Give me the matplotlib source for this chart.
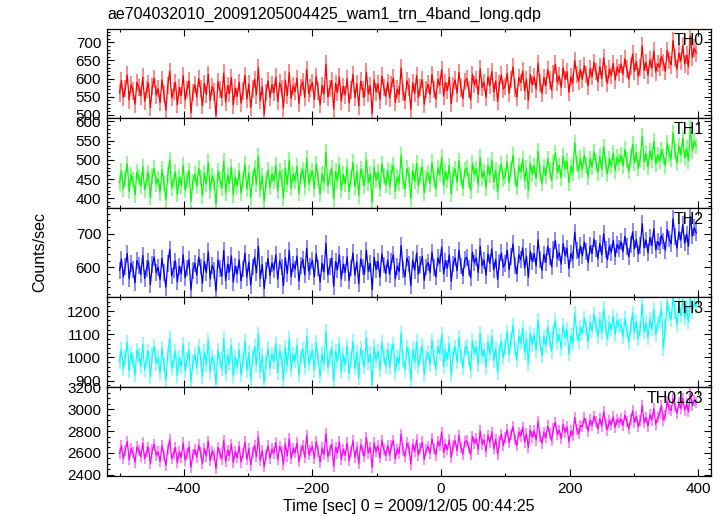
import numpy as np
import matplotlib
matplotlib.use("Agg")
import matplotlib.pyplot as plt
from matplotlib.ticker import MultipleLocator

plt.rcParams['font.family'] = ['Liberation Sans', 'DejaVu Sans']

title = "ae704032010_20091205004425_wam1_trn_4band_long.qdp"
xlabel = "Time [sec] 0 = 2009/12/05 00:44:25"
ylabel = "Counts/sec"
band_names = ["TH0", "TH1", "TH2", "TH3", "TH0123"]
band_colors = ["#ff0000", "#00ff00", "#0000ff", "#00ffff", "#ff00ff"]

t_start = -500.0
bin_size = 3.0

th0 = [
    560, 595, 548, 572, 610, 541, 583, 566, 529, 590, 575, 552, 604, 538, 569, 587, 520, 578, 601, 555,
    572, 534, 596, 558, 513, 581, 620, 547, 566, 589, 528, 575, 553, 608, 541, 570, 594, 505, 562, 583,
    549, 600, 571, 525, 587, 556, 612, 540, 578, 563, 498, 592, 569, 547, 615, 535, 581, 559, 603, 527,
    574, 551, 590, 532, 566, 609, 543, 585, 520, 571, 598, 555, 630, 539, 578, 501, 562, 594, 548, 583,
    561, 604, 537, 588, 572, 519, 596, 553, 617, 545, 580, 564, 601, 531, 576, 592, 548, 625, 559, 574,
    589, 542, 606, 566, 528, 581, 557, 640, 549, 573, 595, 516, 587, 562, 604, 538, 579, 555, 599, 533,
    568, 611, 547, 586, 524, 593, 570, 549, 618, 558, 580, 504, 597, 563, 585, 541, 607, 575, 551, 590,
    546, 583, 602, 534, 571, 556, 629, 562, 540, 594, 577, 515, 588, 560, 608, 548, 576, 597, 529, 569,
    585, 556, 612, 570, 543, 598, 581, 625, 552, 589, 567, 604, 531, 580, 596, 560, 617, 574, 545, 592,
    600, 569, 541, 612, 583, 598, 556, 627, 575, 590, 548, 606, 581, 620, 563, 594, 537, 586, 610, 571,
    579, 615, 560, 597, 632, 574, 549, 603, 589, 621, 566, 598, 540, 611, 583, 605, 571, 642, 588, 559,
    603, 581, 625, 596, 568, 614, 640, 590, 607, 575, 631, 598, 619, 562, 604, 588, 650, 612, 593, 626,
    598, 636, 611, 580, 627, 605, 645, 619, 591, 633, 600, 658, 614, 587, 626, 608, 642, 596, 631, 617,
    640, 612, 655, 627, 598, 634, 668, 620, 647, 606, 631, 690, 623, 645, 609, 652, 629, 676, 618, 641,
    632, 661, 645, 620, 678, 650, 638, 705, 657, 626, 671, 648, 692, 640, 665, 633, 718, 659, 684, 671,
]

th1 = [
    440, 472, 425, 453, 490, 418, 461, 447, 409, 468, 455, 431, 482, 422, 449, 466, 402, 458, 478, 437,
    451, 415, 475, 439, 396, 461, 500, 428, 446, 469, 410, 455, 433, 486, 421, 448, 472, 392, 443, 462,
    431, 478, 452, 407, 466, 437, 493, 420, 458, 442, 384, 470, 449, 426, 497, 414, 460, 438, 481, 409,
    455, 432, 471, 413, 447, 488, 424, 466, 401, 452, 479, 436, 510, 421, 459, 392, 444, 474, 429, 463,
    445, 486, 419, 470, 454, 401, 479, 436, 499, 427, 462, 446, 483, 413, 458, 474, 430, 505, 441, 456,
    472, 425, 489, 449, 411, 464, 440, 520, 432, 456, 478, 399, 470, 445, 487, 421, 462, 438, 482, 416,
    452, 493, 430, 469, 407, 476, 454, 433, 500, 441, 463, 390, 480, 447, 468, 424, 490, 458, 434, 473,
    430, 467, 486, 418, 455, 440, 512, 446, 424, 478, 461, 399, 472, 444, 491, 432, 460, 481, 413, 453,
    466, 437, 493, 451, 424, 479, 462, 506, 433, 470, 448, 485, 412, 461, 477, 441, 498, 455, 426, 473,
    479, 448, 420, 491, 462, 477, 435, 506, 454, 469, 427, 485, 460, 499, 442, 473, 416, 465, 489, 450,
    459, 495, 440, 477, 512, 454, 429, 483, 469, 501, 446, 478, 420, 491, 463, 485, 451, 522, 468, 439,
    481, 459, 503, 474, 446, 492, 518, 468, 485, 453, 509, 476, 497, 440, 482, 466, 545, 490, 471, 504,
    474, 512, 487, 456, 503, 481, 521, 495, 467, 509, 476, 534, 490, 463, 502, 484, 518, 472, 507, 493,
    512, 484, 527, 499, 470, 506, 540, 492, 519, 478, 503, 562, 495, 517, 481, 524, 501, 548, 490, 513,
    497, 526, 510, 485, 543, 515, 503, 570, 522, 491, 536, 513, 557, 505, 530, 498, 583, 524, 549, 536,
]

th2 = [
    590, 624, 571, 603, 641, 565, 612, 594, 553, 620, 606, 578, 635, 566, 597, 618, 548, 609, 630, 584,
    600, 562, 627, 585, 540, 611, 653, 574, 594, 619, 556, 603, 580, 637, 568, 598, 623, 532, 590, 612,
    576, 630, 601, 552, 617, 584, 646, 565, 606, 590, 528, 622, 597, 573, 650, 560, 609, 586, 634, 555,
    604, 579, 622, 559, 595, 642, 570, 615, 546, 601, 630, 583, 663, 566, 608, 536, 591, 626, 575, 612,
    592, 637, 564, 619, 601, 545, 628, 581, 650, 571, 610, 594, 633, 558, 605, 623, 577, 657, 588, 603,
    621, 571, 640, 598, 555, 612, 586, 672, 577, 603, 627, 543, 617, 592, 637, 565, 609, 584, 631, 560,
    598, 643, 576, 616, 550, 625, 601, 579, 651, 588, 611, 533, 630, 593, 618, 570, 640, 607, 581, 622,
    578, 617, 637, 565, 603, 587, 665, 594, 571, 628, 610, 545, 622, 591, 642, 579, 609, 632, 560, 601,
    614, 584, 645, 600, 571, 628, 611, 660, 580, 619, 597, 637, 558, 610, 628, 589, 651, 604, 574, 623,
    630, 598, 568, 645, 613, 628, 584, 662, 604, 621, 576, 640, 611, 655, 592, 624, 563, 616, 643, 600,
    612, 651, 592, 631, 670, 606, 580, 638, 622, 658, 598, 633, 570, 647, 617, 641, 604, 682, 622, 590,
    639, 615, 663, 632, 601, 652, 680, 626, 644, 609, 670, 635, 657, 596, 641, 624, 705, 650, 629, 664,
    634, 675, 648, 614, 664, 641, 684, 657, 626, 671, 637, 700, 652, 622, 663, 645, 681, 632, 668, 655,
    676, 646, 692, 662, 631, 669, 706, 655, 683, 640, 666, 730, 658, 681, 643, 689, 665, 715, 652, 677,
    664, 695, 678, 651, 713, 684, 670, 745, 691, 657, 706, 681, 728, 672, 699, 663, 752, 693, 718, 703,
]

th3 = [
    982, 1035, 951, 1002, 1064, 943, 1018, 990, 925, 1030, 1008, 962, 1055, 946, 994, 1026, 918, 1012, 1046, 973,
    998, 933, 1040, 970, 904, 1012, 1081, 952, 985, 1027, 922, 1000, 961, 1056, 942, 991, 1033, 893, 979, 1015,
    955, 1048, 997, 918, 1024, 968, 1074, 936, 1004, 977, 886, 1030, 990, 950, 1080, 929, 1010, 972, 1052, 921,
    1001, 960, 1034, 925, 988, 1068, 943, 1020, 905, 998, 1046, 966, 1100, 937, 1008, 892, 980, 1039, 953, 1015,
    983, 1059, 934, 1027, 997, 903, 1043, 964, 1080, 946, 1013, 986, 1052, 925, 1003, 1035, 957, 1090, 975, 1000,
    1030, 945, 1063, 993, 920, 1017, 972, 1112, 956, 1001, 1042, 898, 1027, 983, 1057, 937, 1011, 968, 1049, 930,
    992, 1068, 954, 1022, 912, 1040, 998, 960, 1085, 977, 1016, 884, 1047, 985, 1028, 946, 1066, 1005, 962, 1035,
    958, 1025, 1058, 936, 1001, 974, 1105, 987, 948, 1044, 1013, 902, 1034, 980, 1067, 960, 1010, 1050, 928, 996,
    1021, 970, 1074, 1000, 950, 1047, 1017, 1098, 962, 1030, 992, 1060, 926, 1015, 1045, 980, 1085, 1005, 955, 1037,
    1048, 995, 944, 1072, 1019, 1044, 970, 1103, 1005, 1034, 958, 1066, 1016, 1090, 985, 1038, 936, 1026, 1070, 998,
    1047, 1110, 1012, 1078, 1140, 1036, 992, 1090, 1063, 1125, 1021, 1080, 975, 1104, 1055, 1096, 1030, 1160, 1060, 1008,
    1090, 1050, 1130, 1078, 1026, 1110, 1158, 1066, 1097, 1038, 1140, 1083, 1121, 1015, 1093, 1062, 1190, 1105, 1070, 1128,
    1103, 1170, 1127, 1068, 1152, 1114, 1185, 1142, 1090, 1165, 1106, 1210, 1130, 1080, 1150, 1118, 1178, 1098, 1160, 1136,
    1140, 1090, 1168, 1118, 1066, 1130, 1192, 1108, 1156, 1080, 1124, 1230, 1110, 1150, 1086, 1165, 1123, 1206, 1100, 1145,
    1160, 1210, 1040, 1135, 1240, 1190, 1165, 1258, 1198, 1142, 1226, 1180, 1250, 1170, 1215, 1155, 1255, 1200, 1238, 1220,
]

th0123 = [
    2595, 2668, 2552, 2622, 2705, 2540, 2640, 2601, 2515, 2655, 2625, 2566, 2690, 2548, 2610, 2650, 2505, 2628, 2675, 2580,
    2610, 2522, 2670, 2575, 2488, 2630, 2720, 2548, 2592, 2648, 2510, 2612, 2560, 2690, 2535, 2598, 2655, 2470, 2585, 2632,
    2560, 2672, 2601, 2505, 2640, 2570, 2708, 2530, 2615, 2582, 2460, 2650, 2596, 2545, 2715, 2520, 2626, 2575, 2680, 2512,
    2612, 2556, 2662, 2518, 2594, 2700, 2540, 2640, 2490, 2605, 2668, 2566, 2745, 2530, 2620, 2475, 2588, 2664, 2552, 2636,
    2600, 2695, 2538, 2660, 2615, 2495, 2682, 2572, 2730, 2548, 2640, 2602, 2690, 2520, 2618, 2665, 2560, 2760, 2590, 2620,
    2660, 2550, 2705, 2612, 2518, 2645, 2585, 2775, 2565, 2625, 2680, 2480, 2652, 2600, 2700, 2540, 2635, 2578, 2690, 2530,
    2615, 2710, 2560, 2650, 2505, 2675, 2620, 2570, 2740, 2600, 2648, 2470, 2690, 2610, 2665, 2555, 2715, 2632, 2575, 2668,
    2580, 2668, 2712, 2548, 2635, 2600, 2770, 2622, 2570, 2690, 2648, 2500, 2680, 2612, 2718, 2582, 2640, 2700, 2540, 2630,
    2660, 2598, 2730, 2640, 2582, 2708, 2665, 2790, 2602, 2680, 2630, 2720, 2560, 2668, 2712, 2620, 2760, 2650, 2590, 2700,
    2712, 2650, 2585, 2750, 2690, 2730, 2630, 2800, 2680, 2720, 2615, 2760, 2695, 2790, 2640, 2725, 2590, 2700, 2770, 2668,
    2740, 2810, 2695, 2770, 2840, 2725, 2668, 2790, 2755, 2835, 2700, 2775, 2650, 2808, 2745, 2800, 2718, 2885, 2752, 2690,
    2790, 2740, 2845, 2780, 2712, 2825, 2880, 2770, 2808, 2730, 2860, 2788, 2838, 2700, 2800, 2762, 2925, 2815, 2775, 2850,
    2840, 2920, 2868, 2800, 2900, 2852, 2935, 2885, 2820, 2912, 2845, 2975, 2872, 2810, 2895, 2860, 2930, 2835, 2905, 2880,
    2910, 2850, 2945, 2890, 2822, 2905, 2985, 2880, 2935, 2840, 2898, 3030, 2875, 2925, 2845, 2948, 2900, 3002, 2862, 2920,
    2960, 3030, 2900, 2940, 3070, 3010, 2985, 3100, 3025, 2960, 3060, 3005, 3095, 2990, 3048, 2975, 3140, 3030, 3080, 3060,
]

band_errors = [24, 21, 25, 32, 51]

series = [th0, th1, th2, th3, th0123]
ylims = [(490, 737), (375, 608), (510, 778), (874, 1260), (2390, 3205)]
ymajor = [50, 50, 100, 100, 200]
yminor = [10, 10, 20, 20, 50]

W, H = 724, 516
fig = plt.figure(figsize=(W / 100, H / 100), dpi=100)
left, right = 106.7 / W, 711 / W
top_px, bot_px = 29, 476
ph = (bot_px - top_px) / 5

for i, (name, col, vals, err) in enumerate(zip(band_names, band_colors, series, band_errors)):
    y0 = 1 - (top_px + (i + 1) * ph) / H
    ax = fig.add_axes([left, y0, right - left, ph / H])
    vals = np.asarray(vals, dtype=float)
    t = t_start + bin_size * np.arange(len(vals))
    ax.errorbar(t, vals, yerr=err, fmt='none', ecolor=col, alpha=0.5, elinewidth=1.3)
    ax.plot(t, vals, color=col, lw=0.9)
    ax.set_xlim(-520, 420)
    ax.set_ylim(*ylims[i])
    ax.xaxis.set_major_locator(MultipleLocator(200))
    ax.xaxis.set_minor_locator(MultipleLocator(100))
    ax.yaxis.set_major_locator(MultipleLocator(ymajor[i]))
    ax.yaxis.set_minor_locator(MultipleLocator(yminor[i]))
    ax.tick_params(which='both', direction='in', top=True, right=True, bottom=True, left=True,
                   labelsize=11, width=0.8, pad=4)
    ax.tick_params(which='major', length=5)
    ax.tick_params(which='minor', length=2.5)
    if i < 4:
        ax.tick_params(labelbottom=False)
    for s in ax.spines.values():
        s.set_linewidth(0.9)
    ax.text(0.988, 0.955, name, transform=ax.transAxes, ha='right', va='top', fontsize=11.5)

fig.text(107 / W, 1 - 19 / H, title, ha='left', va='baseline', fontsize=11.5)
fig.text(40 / W, 1 - 252 / H, ylabel, rotation=90, ha='center', va='center', fontsize=11.5)
fig.text((left + right) / 2, 1 - 507 / H, xlabel, ha='center', va='center', fontsize=11.5)

fig.savefig("out.png", dpi=100)
